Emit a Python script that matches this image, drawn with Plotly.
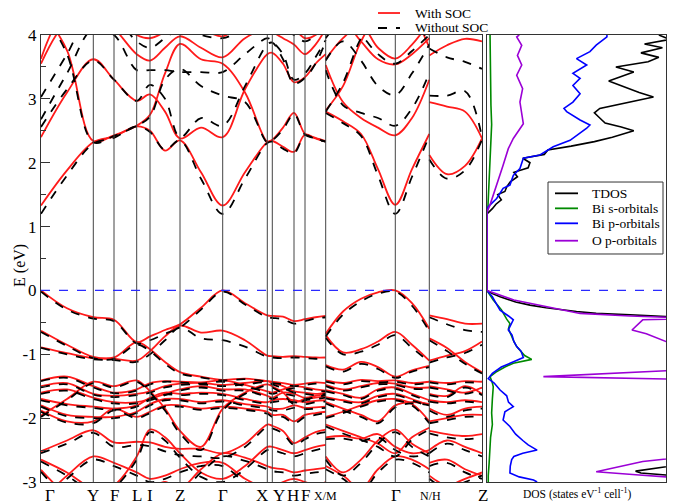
import plotly.graph_objects as go

# ---------------- k-path -----------------
k_A = [0, 26, 52.3, 73, 95.7, 109, 124, 139, 160, 181.7, 204, 226.3, 231.3, 242, 253, 264, 274.5, 284.7]
k_B = [284.7, 302, 320, 337, 354.3, 371, 388.3]
k_C = [388.3, 406, 424, 441]

hs_k = [0, 52.3, 73, 95.7, 109, 139, 181.7, 226.3, 231.3, 253, 264, 284.7, 354.3, 388.3, 441]
hs_labels = ["Γ", "Y", "F", "L", "I", "Z", "Γ", "X", "Y", "H", "F", "X/M", "Γ", "N/H", "Z"]

energy_ticks = [-3, -2, -1, 0, 1, 2, 3, 4]
energy_ticktext = ["-3", "-2", "-1", "0", "1", "2", "3", "4"]

# ---------------- bands, segment Γ ... X/M -----------------
soc_A = [
    [1.33, 1.88, 2.32, 2.41, 2.57, 2.50, 2.19, 2.35, 1.85, 1.33, 1.85, 2.32, 2.34, 2.25, 2.17, 2.44, 2.38, 2.33],
    [2.40, 3.10, 3.62, 3.30, 2.97, 3.07, 2.80, 2.38, 2.55, 2.40, 3.15, 3.70, 3.72, 3.55, 3.26, 3.34, 3.55, 3.70],
    [4.40, 3.76, 2.34, 2.43, 2.58, 2.75, 3.40, 3.86, 3.62, 3.55, 3.10, 2.33, 2.36, 2.55, 2.78, 2.45, 2.39, 2.34],
    [3.55, 4.20, 4.30, 4.10, 3.70, 3.60, 3.80, 3.98, 3.80, 3.65, 3.95, 4.10, 4.05, 3.95, 3.85, 3.70, 3.85, 4.10],
    [3.63, 4.40, 4.40, 4.30, 4.00, 3.95, 4.05, 4.20, 4.10, 3.98, 4.20, 4.30, 4.30, 4.20, 4.10, 3.95, 4.00, 4.20],
    [0.00, -0.28, -0.42, -0.46, -0.81, -0.72, -0.62, -0.53, -0.27, 0.00, -0.20, -0.39, -0.40, -0.41, -0.48, -0.45, -0.42, -0.40],
    [-0.63, -0.85, -1.04, -1.05, -0.81, -0.92, -1.12, -1.28, -1.35, -1.40, -1.38, -1.42, -1.43, -1.45, -1.48, -1.46, -1.44, -1.45],
    [-0.89, -0.98, -1.06, -1.07, -1.10, -0.95, -0.72, -0.55, -0.66, -0.63, -0.78, -1.02, -1.03, -1.04, -1.03, -1.04, -1.05, -1.05],
    [-1.41, -1.35, -1.50, -1.60, -1.55, -1.45, -1.42, -1.43, -1.44, -1.41, -1.48, -1.58, -1.60, -1.55, -1.50, -1.52, -1.55, -1.57],
    [-1.50, -1.45, -1.62, -1.65, -1.62, -1.58, -1.50, -1.46, -1.45, -1.48, -1.45, -1.42, -1.45, -1.50, -1.58, -1.60, -1.62, -1.60],
    [-1.60, -1.55, -1.68, -1.75, -1.75, -1.70, -1.62, -1.55, -1.50, -1.55, -1.55, -1.65, -1.68, -1.60, -1.62, -1.68, -1.65, -1.62],
    [-1.70, -1.78, -1.82, -1.85, -1.80, -1.68, -1.60, -1.62, -1.60, -1.62, -1.70, -1.75, -1.72, -1.70, -1.72, -1.75, -1.73, -1.72],
    [-1.80, -1.95, -1.98, -1.98, -1.90, -1.78, -1.70, -1.70, -1.75, -1.72, -1.78, -1.82, -1.85, -1.85, -1.80, -1.84, -1.83, -1.82],
    [-1.88, -2.05, -2.05, -1.85, -1.98, -1.90, -1.80, -1.80, -1.85, -1.82, -1.85, -1.90, -1.95, -1.95, -2.05, -1.95, -1.92, -1.90],
    [-1.96, -1.70, -1.43, -1.50, -1.41, -1.58, -1.85, -2.20, -2.45, -1.85, -1.60, -1.47, -1.50, -1.60, -1.75, -1.70, -1.68, -1.66],
    [-2.52, -2.35, -2.19, -2.38, -2.37, -2.38, -2.45, -2.48, -2.48, -2.55, -2.40, -2.10, -2.12, -2.20, -2.39, -2.30, -2.22, -2.18],
    [-2.65, -2.85, -3.10, -3.05, -2.60, -2.18, -2.30, -2.55, -2.85, -2.95, -2.75, -2.45, -2.45, -2.50, -2.55, -2.50, -2.45, -2.42],
    [-2.81, -3.20, -3.40, -3.30, -3.20, -3.10, -3.00, -3.10, -2.80, -2.55, -2.62, -2.75, -2.78, -2.80, -2.85, -2.82, -2.80, -2.78],
    [-3.30, -2.90, -2.60, -2.70, -2.85, -2.95, -2.90, -2.80, -2.70, -2.70, -2.95, -3.10, -3.10, -3.00, -2.95, -3.00, -3.05, -3.00],
]
nosoc_A = [
    [1.20, 1.80, 2.30, 2.39, 2.57, 2.48, 2.20, 2.35, 1.75, 1.20, 1.75, 2.31, 2.33, 2.22, 2.15, 2.43, 2.37, 2.33],
    [2.56, 3.15, 3.60, 3.30, 2.97, 3.22, 3.00, 2.40, 2.70, 2.58, 3.20, 3.85, 3.88, 3.62, 3.24, 3.33, 3.55, 3.90],
    [4.40, 3.70, 2.32, 2.42, 2.58, 2.72, 3.30, 3.47, 3.20, 3.05, 2.95, 2.32, 2.35, 2.52, 2.76, 2.44, 2.38, 2.33],
    [2.68, 3.40, 4.10, 4.00, 3.45, 3.45, 3.45, 3.42, 3.42, 3.42, 3.70, 3.95, 3.90, 3.70, 3.30, 3.40, 3.65, 3.92],
    [3.03, 3.70, 4.40, 4.30, 3.90, 3.80, 3.95, 4.10, 4.00, 3.95, 4.10, 4.20, 4.20, 4.10, 4.00, 3.90, 4.00, 4.20],
    [-0.02, -0.30, -0.44, -0.48, -0.83, -0.78, -0.68, -0.58, -0.30, -0.02, -0.22, -0.42, -0.43, -0.45, -0.52, -0.48, -0.44, -0.42],
    [-0.65, -0.87, -1.06, -1.07, -0.85, -0.95, -1.15, -1.30, -1.36, -1.41, -1.39, -1.43, -1.45, -1.47, -1.50, -1.48, -1.46, -1.47],
    [-0.90, -1.00, -1.08, -1.09, -1.12, -1.00, -0.78, -0.58, -0.75, -0.78, -0.88, -1.04, -1.05, -1.06, -1.05, -1.06, -1.07, -1.07],
    [-1.42, -1.37, -1.52, -1.61, -1.57, -1.47, -1.43, -1.44, -1.46, -1.43, -1.50, -1.60, -1.62, -1.57, -1.53, -1.54, -1.57, -1.58],
    [-1.52, -1.47, -1.63, -1.67, -1.64, -1.60, -1.52, -1.48, -1.47, -1.50, -1.47, -1.44, -1.47, -1.53, -1.60, -1.62, -1.64, -1.62],
    [-1.62, -1.57, -1.70, -1.77, -1.77, -1.72, -1.64, -1.57, -1.52, -1.57, -1.57, -1.67, -1.70, -1.63, -1.65, -1.70, -1.67, -1.64],
    [-1.72, -1.80, -1.84, -1.87, -1.82, -1.70, -1.63, -1.64, -1.62, -1.64, -1.72, -1.77, -1.75, -1.73, -1.75, -1.78, -1.75, -1.74],
    [-1.82, -1.97, -2.00, -2.00, -1.92, -1.80, -1.72, -1.72, -1.77, -1.74, -1.80, -1.85, -1.88, -1.88, -1.84, -1.86, -1.85, -1.84],
    [-1.90, -2.07, -2.08, -1.88, -2.00, -1.92, -1.82, -1.82, -1.87, -1.84, -1.87, -1.93, -1.98, -1.98, -2.08, -1.98, -1.95, -1.92],
    [-1.98, -1.72, -1.45, -1.52, -1.43, -1.60, -1.88, -2.24, -2.50, -1.88, -1.62, -1.49, -1.52, -1.62, -1.78, -1.72, -1.70, -1.68],
    [-2.55, -2.40, -2.23, -2.45, -2.42, -2.44, -2.52, -2.58, -2.60, -2.62, -2.45, -2.14, -2.16, -2.24, -2.42, -2.33, -2.25, -2.22],
    [-2.68, -2.90, -3.15, -3.08, -2.65, -2.22, -2.35, -2.62, -2.92, -3.00, -2.80, -2.50, -2.50, -2.55, -2.60, -2.55, -2.50, -2.46],
    [-2.84, -3.25, -3.45, -3.35, -3.25, -3.15, -3.05, -3.15, -2.85, -2.60, -2.67, -2.80, -2.83, -2.85, -2.90, -2.87, -2.85, -2.83],
    [-3.35, -2.95, -2.65, -2.75, -2.90, -3.00, -2.95, -2.85, -2.75, -2.75, -3.00, -3.15, -3.15, -3.05, -3.00, -3.05, -3.10, -3.05],
]

# ---------------- bands, segment X/M ... N/H -----------------
soc_B = [
    [2.80, 2.65, 2.45, 1.90, 1.34, 1.90, 2.45],
    [2.82, 3.20, 3.90, 4.30, 4.40, 4.30, 3.80],
    [3.53, 2.95, 2.70, 2.55, 2.43, 2.70, 3.30],
    [3.62, 3.95, 4.15, 3.80, 3.63, 3.85, 4.20],
    [4.00, 4.20, 3.90, 3.62, 3.54, 3.70, 3.95],
    [-0.68, -0.33, -0.13, -0.03, 0.00, -0.20, -0.60],
    [-0.70, -0.97, -0.92, -0.80, -0.65, -0.85, -1.10],
    [-1.17, -1.24, -1.12, -1.20, -1.35, -1.25, -1.18],
    [-1.41, -1.45, -1.40, -1.42, -1.41, -1.45, -1.43],
    [-1.48, -1.55, -1.50, -1.45, -1.46, -1.52, -1.52],
    [-1.56, -1.62, -1.68, -1.55, -1.52, -1.62, -1.72],
    [-1.67, -1.72, -1.75, -1.65, -1.62, -1.70, -1.80],
    [-1.75, -1.85, -1.95, -2.05, -1.80, -1.75, -1.78],
    [-1.98, -1.90, -1.80, -1.72, -1.70, -1.78, -2.05],
    [-2.10, -2.20, -2.30, -2.40, -2.55, -2.30, -2.15],
    [-2.30, -2.28, -2.32, -2.25, -2.45, -2.55, -2.50],
    [-2.60, -2.85, -2.65, -2.35, -2.18, -2.40, -2.55],
    [-2.75, -2.90, -3.10, -2.80, -2.60, -2.65, -2.80],
]
nosoc_B = [
    [2.78, 2.62, 2.42, 1.80, 1.20, 1.78, 2.42],
    [2.80, 3.25, 3.95, 4.30, 4.40, 4.30, 3.85],
    [3.45, 2.90, 2.78, 2.70, 2.58, 2.85, 3.40],
    [3.60, 3.90, 3.60, 3.20, 3.06, 3.40, 3.85],
    [3.95, 4.20, 4.00, 3.70, 3.55, 3.75, 4.00],
    [-0.72, -0.38, -0.17, -0.05, -0.02, -0.24, -0.64],
    [-0.74, -1.00, -0.96, -0.85, -0.70, -0.90, -1.12],
    [-1.19, -1.27, -1.15, -1.23, -1.37, -1.27, -1.20],
    [-1.43, -1.47, -1.42, -1.44, -1.43, -1.47, -1.45],
    [-1.50, -1.57, -1.52, -1.47, -1.48, -1.54, -1.54],
    [-1.58, -1.64, -1.70, -1.57, -1.54, -1.64, -1.74],
    [-1.69, -1.74, -1.77, -1.67, -1.64, -1.72, -1.82],
    [-1.77, -1.88, -1.98, -2.08, -1.83, -1.77, -1.80],
    [-2.00, -1.92, -1.82, -1.74, -1.72, -1.80, -2.08],
    [-2.13, -2.24, -2.34, -2.45, -2.60, -2.34, -2.18],
    [-2.33, -2.32, -2.36, -2.30, -2.50, -2.60, -2.55],
    [-2.65, -2.90, -2.70, -2.40, -2.22, -2.45, -2.60],
    [-2.80, -2.95, -3.15, -2.85, -2.65, -2.70, -2.85],
]

# ---------------- bands, segment N/H ... Z -----------------
soc_C = [
    [2.12, 1.82, 1.95, 2.38],
    [2.95, 2.88, 2.80, 2.38],
    [3.68, 3.84, 3.94, 3.90],
    [-0.39, -0.45, -0.52, -0.52],
    [-0.75, -0.90, -1.12, -1.28],
    [-1.10, -1.02, -0.95, -0.80],
    [-1.42, -1.45, -1.42, -1.43],
    [-1.50, -1.55, -1.60, -1.52],
    [-1.62, -1.65, -1.50, -1.62],
    [-1.72, -1.75, -1.72, -1.75],
    [-1.85, -1.95, -1.85, -1.82],
    [-2.05, -2.00, -1.95, -1.95],
    [-2.20, -2.25, -2.28, -2.25],
    [-2.50, -2.35, -2.45, -2.55],
    [-2.70, -2.65, -2.80, -2.90],
    [-2.90, -3.05, -2.95, -2.85],
]
nosoc_C = [
    [2.05, 1.75, 1.88, 2.36],
    [3.05, 3.05, 3.12, 2.40],
    [3.79, 3.65, 3.58, 3.47],
    [-0.42, -0.53, -0.62, -0.65],
    [-0.78, -0.95, -1.15, -1.30],
    [-1.13, -1.05, -0.98, -0.85],
    [-1.44, -1.47, -1.44, -1.45],
    [-1.52, -1.57, -1.62, -1.54],
    [-1.64, -1.67, -1.52, -1.64],
    [-1.74, -1.77, -1.74, -1.77],
    [-1.88, -1.98, -1.88, -1.85],
    [-2.08, -2.03, -1.98, -1.98],
    [-2.24, -2.30, -2.33, -2.30],
    [-2.55, -2.40, -2.50, -2.60],
    [-2.75, -2.70, -2.85, -2.95],
    [-2.95, -3.10, -3.00, -2.90],
]

# ---------------- DOS -----------------
tdos_E = [-3.0, -2.92, -2.89, -2.86, -2.83, -2.79, -2.75, -2.73, -2.6, -2.2, -1.8, -1.4, -1.0, -0.7, -0.5, -0.44,
          -0.41, -0.38, -0.36, -0.33, -0.31, -0.27, -0.23, -0.18, -0.1, -0.05, 0.0,
          1.2, 1.28, 1.35, 1.42, 1.5, 1.55, 1.62, 1.7, 1.78, 1.85, 1.92, 2.0, 2.07, 2.13, 2.2, 2.26, 2.33, 2.4,
          2.5, 2.56, 2.62, 2.7, 2.78, 2.85, 2.95, 3.03, 3.1, 3.2, 3.28, 3.35, 3.42, 3.5, 3.58, 3.65, 3.72, 3.8,
          3.86, 3.93, 4.0]
tdos = [12, 11, 10, 8.6, 8.3, 9.2, 10, 10.5, 14, 15, 16, 20, 18, 16, 14, 11.5,
        10, 8.0, 6.1, 5.0, 4.3, 3.3, 2.4, 1.6, 0.73, 0.3, 0,
        0, 0.3, 0.5, 0.8, 0.6, 1.0, 1.1, 1.3, 1.7, 1.5, 2.3, 2.4, 2.0, 3.2, 3.4, 4.7, 6.0, 7.0,
        8.2, 7.5, 6.6, 6.3, 6.0, 6.3, 8.0, 9.3, 8.5, 7.6, 6.8, 7.5, 8.2, 7.2, 9.0, 9.6, 8.6, 9.8,
        8.8, 10.2, 9.6]

bis_E = [-3.0, -2.9, -2.7, -2.45, -2.3, -2.1, -1.92, -1.7, -1.51, -1.45, -1.35, -1.28, -1.2, -1.14, -1.08,
         -1.02, -0.95, -0.88, -0.8, -0.7, -0.6, -0.52, -0.45, -0.3, -0.15, 0.0,
         1.2, 1.3, 1.6, 2.0, 2.4, 2.6, 2.9, 3.2, 3.5, 3.8, 4.0]
bis = [0.07, 0.07, 0.12, 0.17, 0.2, 0.3, 0.26, 0.3, 0.35, 0.3, 0.17, 0.5, 1.0, 1.47, 2.5,
       2.1, 1.9, 1.66, 1.5, 1.35, 1.2, 1.28, 1.1, 0.8, 0.35, 0,
       0, 0.05, 0.1, 0.15, 0.2, 0.26, 0.22, 0.2, 0.18, 0.17, 0.17]

bip_E = [-3.0, -2.97, -2.92, -2.86, -2.75, -2.65, -2.6, -2.55, -2.5, -2.42, -2.35, -2.25, -2.13, -2.03, -1.9,
         -1.82, -1.75, -1.65, -1.56, -1.45, -1.38, -1.3, -1.2, -1.14, -1.1, -1.05, -0.95, -0.88, -0.8, -0.7,
         -0.62, -0.55, -0.46, -0.4, -0.31, -0.2, -0.1, 0.0,
         1.25, 1.31, 1.44, 1.6, 1.65, 1.8, 1.91, 2.07, 2.12, 2.25, 2.35, 2.54, 2.59, 2.67, 2.8, 2.85, 2.95,
         3.08, 3.21, 3.32, 3.4, 3.53, 3.63, 3.74, 3.84, 3.97, 4.0]
bip = [2.8, 2.6, 1.8, 1.28, 1.3, 1.38, 1.5, 2.0, 2.8, 2.3, 2.0, 1.6, 1.28, 0.9, 1.0,
       1.47, 1.2, 1.1, 0.73, 0.4, 0.07, 0.3, 0.8, 1.28, 1.6, 2.03, 1.9, 1.66, 1.5, 1.4,
       1.19, 1.3, 1.47, 1.2, 0.73, 0.5, 0.3, 0,
       0, 0.07, 0.54, 0.9, 1.28, 1.47, 1.84, 2.03, 2.96, 3.7, 4.64, 5.57, 5.75, 5.2, 4.45, 4.3, 4.8,
       5.2, 4.8, 5.2, 4.8, 5.57, 5.0, 5.75, 6.1, 6.7, 6.7]

op_E = [-3.0, -2.92, -2.89, -2.84, -2.68, -2.64, -2.4, -1.8, -1.45, -1.39, -1.35, -1.25, -1.1, -0.9, -0.8,
        -0.72, -0.68, -0.62, -0.46, -0.44, -0.42, -0.4, -0.36, -0.25, -0.15, 0.0,
        1.23, 1.34, 1.49, 1.7, 1.96, 2.22, 2.38, 2.61, 2.8, 2.95, 3.16, 3.37, 3.53, 3.68, 3.84, 3.97, 4.0]
op = [12, 10, 8.5, 6.1, 8.7, 10, 14, 16, 14, 10.5, 3.15, 10.5, 14, 13, 10,
      9.3, 8.9, 8.1, 8.7, 12, 10, 8.0, 5.2, 3.3, 1.5, 0,
      0, 0.17, 0.35, 0.63, 0.9, 1.19, 1.47, 2.03, 1.94, 1.84, 1.99, 1.66, 1.94, 1.7, 1.94, 1.66, 1.8]

band_legend = ["With SOC", "Without SOC"]
dos_names = ["TDOS", "Bi s-orbitals", "Bi p-orbitals", "O p-orbitals"]

# ---------------- figure -----------------
FONT = "Liberation Serif, Times New Roman, Times, serif"
SOC_COLOR, NOSOC_COLOR = "#ff1a1a", "black"
DOS_COLORS = ["black", "#008a00", "#0000ff", "#9b00d6"]
fig = go.Figure()


def collect(segments):
    xs, ys = [], []
    for kk, bands in segments:
        for b in bands:
            xs += list(kk) + [None]
            ys += list(b) + [None]
    return xs, ys


xs, ys = collect([(k_A, soc_A), (k_B, soc_B), (k_C, soc_C)])
fig.add_trace(go.Scatter(x=xs, y=ys, mode="lines", name=band_legend[0], showlegend=False,
                         line=dict(color=SOC_COLOR, width=1.8, shape="spline", smoothing=1.0),
                         xaxis="x", yaxis="y"))
xs, ys = collect([(k_A, nosoc_A), (k_B, nosoc_B), (k_C, nosoc_C)])
fig.add_trace(go.Scatter(x=xs, y=ys, mode="lines", name=band_legend[1], showlegend=False,
                         line=dict(color=NOSOC_COLOR, width=1.8, dash="dash", shape="spline", smoothing=1.0),
                         xaxis="x", yaxis="y"))

for name, e, d, c in zip(dos_names, [tdos_E, bis_E, bip_E, op_E], [tdos, bis, bip, op], DOS_COLORS):
    fig.add_trace(go.Scatter(x=d, y=e, mode="lines", name=name, showlegend=False,
                             line=dict(color=c, width=1.6), xaxis="x2", yaxis="y2"))

shapes = []
for k in hs_k[1:-1]:
    shapes.append(dict(type="line", xref="x", yref="paper", x0=k, x1=k, y0=0, y1=1,
                       line=dict(color="#444", width=1)))
shapes.append(dict(type="line", xref="paper", yref="y", x0=0, x1=1, y0=0, y1=0,
                   line=dict(color="#2a2aff", width=1.2, dash="dash")))

annotations = []
# legend for the band panel (above the plot)
for yy, name, col, dash in [(1.0492, band_legend[0], SOC_COLOR, "solid"),
                            (1.0157, band_legend[1], NOSOC_COLOR, "dash")]:
    shapes.append(dict(type="line", xref="paper", yref="paper", x0=0.5392, x1=0.5744, y0=yy, y1=yy,
                       line=dict(color=col, width=1.8, dash=dash)))
    annotations.append(dict(x=0.5952, y=yy, xref="paper", yref="paper", text=name, showarrow=False,
                            xanchor="left", yanchor="middle", font=dict(family=FONT, size=13.5, color="black")))

# legend box for the DOS panel
shapes.append(dict(type="rect", xref="paper", yref="paper", x0=0.8112, x1=0.9952, y0=0.5101, y1=0.6711,
                   line=dict(color="#333", width=1), fillcolor="white", layer="above"))
for yy, name, col in zip([0.6458, 0.6122, 0.5787, 0.5398], dos_names, DOS_COLORS):
    shapes.append(dict(type="line", xref="paper", yref="paper", x0=0.8224, x1=0.8592, y0=yy, y1=yy,
                       line=dict(color=col, width=1.8), layer="above"))
    annotations.append(dict(x=0.8784, y=yy, xref="paper", yref="paper", text=name, showarrow=False,
                            xanchor="left", yanchor="middle", font=dict(family=FONT, size=13.5, color="black")))

label_shift = [9, 0, 0, 0, 0, 0, 0, -5, 7, -1, 0, 0, 1, 1, 1]
for k, lab, sh in zip(hs_k, hs_labels, label_shift):
    small = "/" in lab
    annotations.append(dict(x=k, y=0, xref="x", yref="paper", text=lab, showarrow=False,
                            xanchor="center", yanchor="top", xshift=sh, yshift=-2 if not small else -5,
                            font=dict(family=FONT, size=12 if small else 17, color="black")))
annotations.append(dict(x=0.8576, y=0, xref="paper", yref="paper",
                        text="DOS (states eV<sup>-1</sup> cell<sup>-1</sup>)", showarrow=False,
                        xanchor="center", yanchor="top", yshift=-2,
                        font=dict(family=FONT, size=11.5, color="black")))
annotations.append(dict(x=-0.034, y=0.485, xref="paper", yref="paper", text="E (eV)", showarrow=False,
                        textangle=-90, xanchor="center", yanchor="middle",
                        font=dict(family=FONT, size=16, color="black")))

axis_line = dict(showline=True, linecolor="#333", linewidth=1, mirror=True, showgrid=False, zeroline=False)

fig.update_layout(
    width=674, height=504,
    margin=dict(l=41, r=8, t=35, b=22),
    paper_bgcolor="white", plot_bgcolor="white",
    font=dict(family=FONT, color="black"),
    xaxis=dict(domain=[0, 0.7056], range=[0, 441], showticklabels=False, ticks="", **axis_line),
    yaxis=dict(range=[-3, 4], tickmode="array", tickvals=energy_ticks, ticktext=energy_ticktext,
               ticks="inside", ticklen=9, tickwidth=1, tickcolor="#333",
               minor=dict(ticks="inside", ticklen=5, dtick=0.5, tickcolor="#333"),
               tickfont=dict(family=FONT, size=17, color="black"), **axis_line),
    xaxis2=dict(domain=[0.7136, 1], range=[0, 10], showticklabels=False, ticks="", anchor="y2", **axis_line),
    yaxis2=dict(range=[-3, 4], anchor="x2", matches="y", showticklabels=False, ticks="", **axis_line),
    shapes=shapes,
    annotations=annotations,
    showlegend=False,
)

fig.write_html("out.html")
